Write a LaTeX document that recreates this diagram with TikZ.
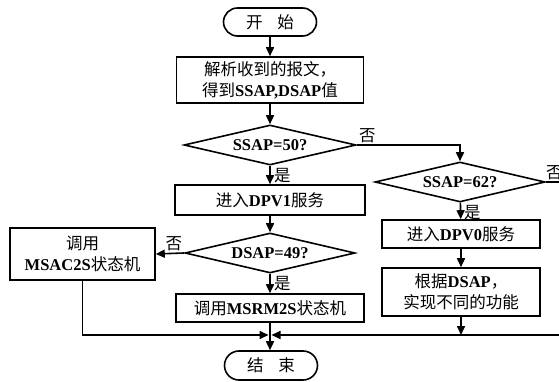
\documentclass[tikz,border=0pt]{standalone}
\usepackage{fontspec}
\setmainfont{Liberation Serif}
\newfontfamily\cjk{Noto Sans CJK SC}
\usetikzlibrary{arrows.meta}
\usetikzlibrary{shapes.geometric,shapes.misc}
\usetikzlibrary{calc}

\begin{document}
\begin{tikzpicture}[
  x = 1pt, y = -1pt,
  > = {Triangle[length=9pt,width=8pt]},
  every node/.style = {font=\fontsize{16.5}{21}\selectfont, align=center},
  flow/.style = {line width=1.6pt},
  term/.style = {draw,line width=1.6pt,rounded rectangle,minimum width=93pt,minimum height=28pt,inner sep=0pt},
  proc/.style = {draw,line width=1.6pt,rectangle,inner sep=0pt},
  cond/.style = {draw,line width=1.6pt,diamond,aspect=4.3,inner sep=0pt,minimum width=172pt,minimum height=40pt},
  lbl/.style = {inner sep=1pt}
  ]
  \useasboundingbox (0,0) rectangle (559,382);

  % main column
  \node[term] (start) at (270,22) {{\cjk 开}\hspace{0.9em}{\cjk 始}};
  \node[proc,minimum width=187pt,minimum height=46pt] (parse) at (270,80)
    {{\cjk 解析收到的报文，}\\{\cjk 得到}\textbf{SSAP,DSAP}{\cjk 值}};
  \node[cond] (d50) at (270,145) {\textbf{SSAP=50?}};
  \node[proc,minimum width=190pt,minimum height=30pt] (dpv1) at (270,200) {{\cjk 进入}\textbf{DPV1}{\cjk 服务}};
  \node[cond,minimum width=170pt] (d49) at (270,253) {\textbf{DSAP=49?}};
  \node[proc,minimum width=188pt,minimum height=28pt] (msrm) at (270,308) {{\cjk 调用}\textbf{MSRM2S}{\cjk 状态机}};
  \node[term,minimum height=29pt] (stop) at (271,365.5) {{\cjk 结}\hspace{0.9em}{\cjk 束}};

  % left branch
  \node[proc,minimum width=145pt,minimum height=52pt] (msac) at (82.5,254)
    {{\cjk 调用}\\\textbf{MSAC2S}{\cjk 状态机}};

  % right branch
  \node[cond,minimum width=170pt] (d62) at (460,182) {\textbf{SSAP=62?}};
  \node[proc,minimum width=158pt,minimum height=28pt] (dpv0) at (461,234) {{\cjk 进入}\textbf{DPV0}{\cjk 服务}};
  \node[proc,minimum width=158pt,minimum height=48pt] (func) at (461,292)
    {{\cjk 根据}\textbf{DSAP}{\cjk ，}\\{\cjk 实现不同的功能}};

  \coordinate (m) at (270,335);
  \coordinate (edge) at (567,182);

  \draw[flow,->] (start) -- (parse);
  \draw[flow,->] (parse) -- (d50);
  \draw[flow,->] (d50) -- (dpv1);
  \draw[flow,->] (dpv1) -- (d49);
  \draw[flow,->] (d49) -- (msrm);
  \draw[flow,->] (msrm.south) -- (stop.north -| msrm.south);
  \draw[flow,->] (d49.west) -- (msac.east);
  \draw[flow,->] (d50.east) -| (d62.north);
  \draw[flow,->] (d62) -- (dpv0);
  \draw[flow,->] (dpv0) -- (func);
  \draw[flow,->] (func.south) -- (func.south |- m);
  \draw[flow,->] (msac.south) |- ([xshift=-1.5pt]m);
  \draw[flow,->] (d62.east) -- (edge) |- ([xshift=1.5pt]m);

  % branch labels
  \node[lbl,anchor=south west] at ($(d50.east)+(1,-1)$) {\cjk 否};
  \node[lbl,anchor=north west] at ($(d50.south)+(3,1)$) {\cjk 是};
  \node[lbl,anchor=south east] at ($(d49.west)+(-1,-1)$) {\cjk 否};
  \node[lbl,anchor=north west] at ($(d49.south)+(3,1)$) {\cjk 是};
  \node[lbl,anchor=south west] at ($(d62.east)+(-1,-1)$) {\cjk 否};
  \node[lbl,anchor=north west] at ($(d62.south)+(3,1)$) {\cjk 是};
\end{tikzpicture}
\end{document}
